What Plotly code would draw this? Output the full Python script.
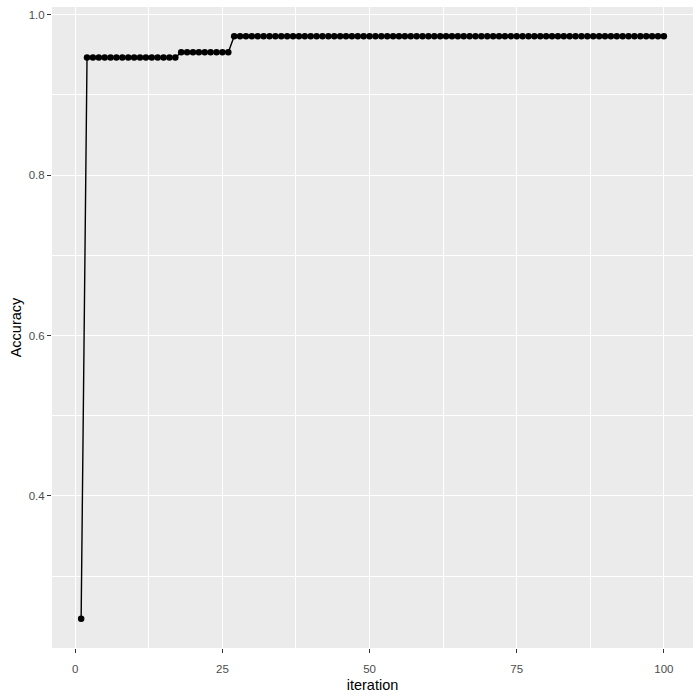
import plotly.graph_objects as go

# Values (accuracy per iteration)
iteration = list(range(1, 101))
accuracy = [0.2467] + [0.9467] * 16 + [0.9533] * 9 + [0.9733] * 74

x_ticks = [0, 25, 50, 75, 100]
y_ticks = [0.4, 0.6, 0.8, 1.0]
y_tick_text = ["0.4", "0.6", "0.8", "1.0"]

fig = go.Figure()

fig.add_trace(go.Scatter(
    x=iteration, y=accuracy,
    mode='lines+markers',
    line=dict(color='black', width=1.4),
    marker=dict(color='black', size=6.5),
    showlegend=False
))

# ggplot-like axis expansion of 5%
xr = (max(iteration) - min(iteration)) * 0.05
yr = (max(accuracy) - min(accuracy)) * 0.05

axis_common = dict(
    showgrid=True, gridcolor='white', gridwidth=1.1,
    zeroline=False, showline=False, automargin=False,
    ticks='outside', ticklen=4, tickwidth=1.1, tickcolor='#333333',
    tickfont=dict(size=11.5, color='#4D4D4D'),
)

fig.update_xaxes(
    range=[min(iteration) - xr, max(iteration) + xr],
    tickvals=x_ticks, ticklabelstandoff=6,
    title=dict(text='iteration', font=dict(size=14.5, color='black'), standoff=6),
    minor=dict(dtick=12.5, tick0=12.5, showgrid=True, gridcolor='white', gridwidth=0.5, ticks=''),
    **axis_common
)
fig.update_yaxes(
    range=[min(accuracy) - yr, max(accuracy) + yr],
    tickvals=y_ticks, ticktext=y_tick_text,
    title=dict(text='Accuracy', font=dict(size=14.5, color='black'), standoff=3),
    minor=dict(dtick=0.1, tick0=0.3, showgrid=True, gridcolor='white', gridwidth=0.5, ticks=''),
    **axis_common
)

fig.update_layout(
    width=700, height=700,
    margin=dict(l=52, r=7, t=7, b=52),
    plot_bgcolor='#EBEBEB',
    paper_bgcolor='white',
    font=dict(family='Liberation Sans, Arial, sans-serif'),
)

# remove the default page margin so the figure sits at the window corner
fig.write_html("out.html", config={'displayModeBar': False},
               post_script="document.body.style.margin='0';")
